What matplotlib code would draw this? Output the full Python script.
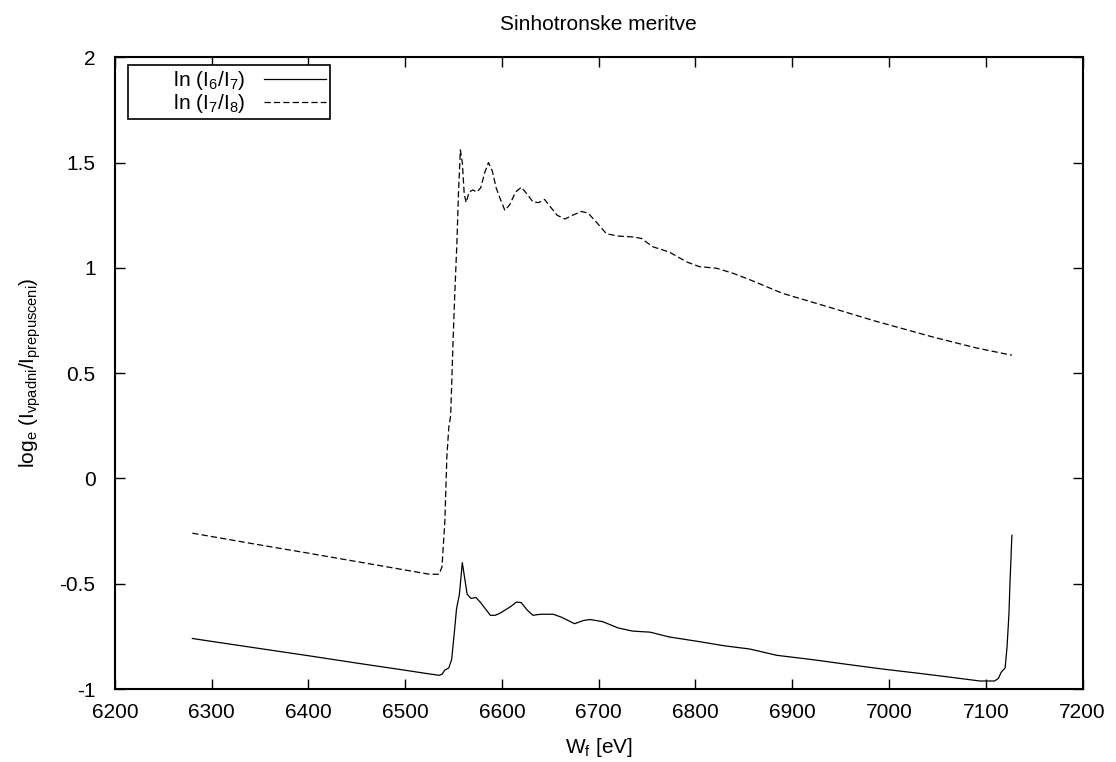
import matplotlib
matplotlib.use('Agg')
import matplotlib.pyplot as plt
from matplotlib.ticker import FuncFormatter, MultipleLocator

plt.rcParams['font.family'] = ['Liberation Sans', 'DejaVu Sans']
plt.rcParams['mathtext.default'] = 'regular'
plt.rcParams['axes.unicode_minus'] = False

# ln(I6/I7) - solid curve
e_67 = [6280, 6300, 6350, 6400, 6450, 6500, 6520, 6535, 6538, 6541, 6545, 6548,
        6551, 6553, 6556, 6559, 6561, 6564, 6568, 6573, 6578, 6583, 6588, 6593,
        6598, 6605, 6610, 6615, 6620, 6626, 6632, 6640, 6653, 6662, 6675, 6684,
        6691, 6704, 6720, 6735, 6753, 6773, 6804, 6830, 6856, 6884, 6920, 6960,
        6993, 7030, 7060, 7094, 7109, 7113, 7116, 7120, 7122, 7124, 7125, 7127]
ln_67 = [-0.76, -0.774, -0.808, -0.842, -0.877, -0.911, -0.925, -0.935, -0.93, -0.91, -0.90, -0.86,
         -0.72, -0.62, -0.55, -0.40, -0.46, -0.55, -0.57, -0.565, -0.59, -0.62, -0.65, -0.65,
         -0.64, -0.62, -0.605, -0.587, -0.59, -0.625, -0.65, -0.645, -0.645, -0.66, -0.69, -0.675,
         -0.67, -0.68, -0.71, -0.725, -0.73, -0.753, -0.775, -0.795, -0.81, -0.84, -0.86, -0.885,
         -0.905, -0.925, -0.942, -0.962, -0.962, -0.95, -0.92, -0.90, -0.80, -0.64, -0.5, -0.27]

# ln(I7/I8) - dashed curve
e_78 = [6280, 6350, 6400, 6450, 6500, 6525, 6535, 6538, 6541, 6543, 6545, 6547,
        6549.5, 6551, 6553.5, 6555, 6557, 6559, 6561, 6563, 6566, 6570, 6574, 6578,
        6582, 6586, 6590, 6594, 6598, 6603, 6608, 6614, 6620, 6626, 6632, 6638,
        6644, 6650, 6657, 6665, 6673, 6682, 6689, 6697, 6708, 6720, 6735, 6744,
        6756, 6773, 6791, 6804, 6822, 6839, 6856, 6890, 6942, 6983, 7045, 7090, 7127]
ln_78 = [-0.26, -0.316, -0.355, -0.395, -0.435, -0.455, -0.455, -0.42, -0.2, 0.1, 0.24, 0.3,
         0.66, 0.85, 1.13, 1.35, 1.56, 1.5, 1.35, 1.31, 1.36, 1.37, 1.36, 1.38,
         1.45, 1.50, 1.46, 1.38, 1.33, 1.273, 1.30, 1.36, 1.383, 1.35, 1.313, 1.31,
         1.325, 1.29, 1.25, 1.232, 1.25, 1.268, 1.26, 1.22, 1.162, 1.151, 1.147, 1.14,
         1.10, 1.075, 1.028, 1.006, 0.998, 0.974, 0.944, 0.879, 0.808, 0.751, 0.672, 0.62, 0.585]

fs = 15

fig = plt.figure(figsize=(11.16, 7.62), dpi=100)
ax = fig.add_axes([0.103, 0.0958, 0.867, 0.829])

# leading spaces imitate the gnuplot key, where text sits right-aligned
pad_txt = '       '
ax.plot(e_67, ln_67, color='black', lw=0.9, label=pad_txt + r'ln (I$_6$/I$_7$)')
ax.plot(e_78, ln_78, color='black', lw=0.9, dashes=(5, 2.5), label=pad_txt + r'ln (I$_7$/I$_8$)')

ax.set_xlim(6200, 7200)
ax.set_ylim(-1, 2)
ax.xaxis.set_major_locator(MultipleLocator(100))
ax.yaxis.set_major_locator(MultipleLocator(0.5))
ax.yaxis.set_major_formatter(FuncFormatter(lambda v, p: '%g' % v))
ax.tick_params(direction='in', length=7, width=1.0, top=True, right=True,
               labelsize=fs)
ax.tick_params(axis='x', pad=10)
ax.tick_params(axis='y', pad=14)
for s in ax.spines.values():
    s.set_linewidth(1.5)

ax.set_title('Sinhotronske meritve', fontsize=fs, pad=20)
ax.set_xlabel(r'W$_f$ [eV]', fontsize=fs, labelpad=10)
ax.set_ylabel(r'log$_e$ (I$_{vpadni}$/I$_{prepusceni}$)', fontsize=fs, labelpad=12)

leg = ax.legend(loc='upper left', bbox_to_anchor=(0.014, 0.988), fontsize=fs,
                markerfirst=False, fancybox=False, framealpha=1, edgecolor='black',
                borderpad=0.2, labelspacing=0.0, handlelength=3.0, handletextpad=0.9,
                borderaxespad=0)
leg.get_frame().set_linewidth(1.2)

fig.savefig('out.png', dpi=100)
